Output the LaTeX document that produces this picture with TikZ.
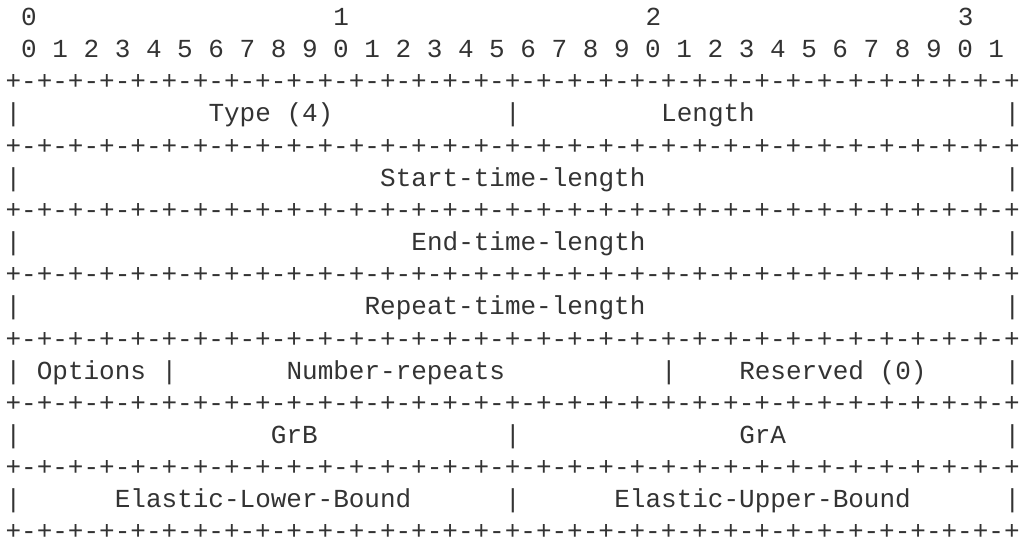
\documentclass[tikz,border=0pt]{standalone}
\usepackage{fontspec}
\setmonofont{Liberation Mono}
\definecolor{ink}{HTML}{333333}
\tikzset{seg/.style={font=\ttfamily\fontsize{26}{26}\selectfont, text=ink, anchor=base west, inner sep=0pt, outer sep=0pt}}
\newcommand\putseg[4]{\node[seg] (#1) at ({5.6+#2*15.61},{25.4+#3*32.16}) {#4};}
\def\bpair{+-}
\def\bquad{\bpair\bpair\bpair\bpair}
\def\bline{\bquad\bquad\bquad\bquad\bquad\bquad\bquad\bquad+}
\begin{document}
\begin{tikzpicture}[x=1pt,y=-1pt]
\fill[white] (0,0) rectangle (1020,545);
\useasboundingbox (0,0) rectangle (1020,545);
% bit index header
\putseg{h0}{1}{0}{0}
\putseg{h1}{21}{0}{1}
\putseg{h2}{41}{0}{2}
\putseg{h3}{61}{0}{3}
\putseg{bits}{1}{1}{0~1~2~3~4~5~6~7~8~9~0~1~2~3~4~5~6~7~8~9~0~1~2~3~4~5~6~7~8~9~0~1}
% borders
\putseg{b2}{0}{2}{\bline}
\putseg{b4}{0}{4}{\bline}
\putseg{b6}{0}{6}{\bline}
\putseg{b8}{0}{8}{\bline}
\putseg{b10}{0}{10}{\bline}
\putseg{b12}{0}{12}{\bline}
\putseg{b14}{0}{14}{\bline}
\putseg{b16}{0}{16}{\bline}
% row 3
\putseg{r3a}{0}{3}{|}
\putseg{type}{13}{3}{Type (4)}
\putseg{r3b}{32}{3}{|}
\putseg{length}{42}{3}{Length}
\putseg{r3c}{64}{3}{|}
% row 5
\putseg{r5a}{0}{5}{|}
\putseg{start}{24}{5}{Start-time-length}
\putseg{r5b}{64}{5}{|}
% row 7
\putseg{r7a}{0}{7}{|}
\putseg{end}{26}{7}{End-time-length}
\putseg{r7b}{64}{7}{|}
% row 9
\putseg{r9a}{0}{9}{|}
\putseg{repeat}{23}{9}{Repeat-time-length}
\putseg{r9b}{64}{9}{|}
% row 11
\putseg{r11a}{0}{11}{|}
\putseg{options}{2}{11}{Options}
\putseg{r11b}{10}{11}{|}
\putseg{numrep}{18}{11}{Number-repeats}
\putseg{r11c}{42}{11}{|}
\putseg{reserved}{47}{11}{Reserved (0)}
\putseg{r11d}{64}{11}{|}
% row 13
\putseg{r13a}{0}{13}{|}
\putseg{grb}{17}{13}{GrB}
\putseg{r13b}{32}{13}{|}
\putseg{gra}{47}{13}{GrA}
\putseg{r13c}{64}{13}{|}
% row 15
\putseg{r15a}{0}{15}{|}
\putseg{elb}{7}{15}{Elastic-Lower-Bound}
\putseg{r15b}{32}{15}{|}
\putseg{eub}{39}{15}{Elastic-Upper-Bound}
\putseg{r15c}{64}{15}{|}
\end{tikzpicture}
\end{document}
